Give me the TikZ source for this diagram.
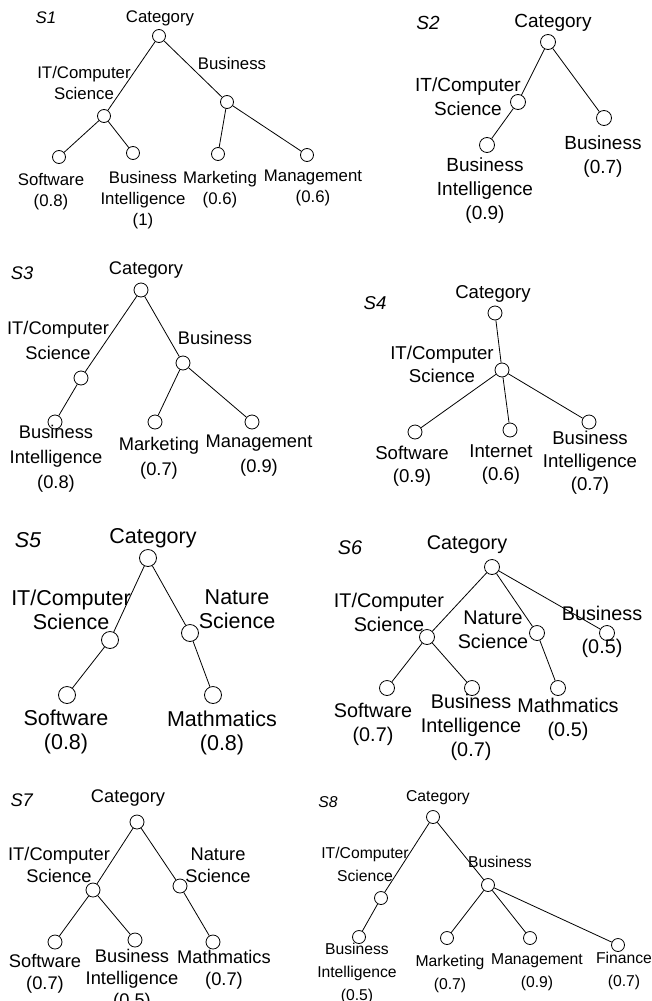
\documentclass[tikz,border=0pt]{standalone}
\usepackage{fontspec}
\setmainfont{Liberation Sans}

\begin{document}
\begin{tikzpicture}[x=1pt, y=-1pt, line width=0.8pt,
		vtx/.style={circle, draw, inner sep=0pt, minimum size=#1},
		vtx/.default=14pt,
		lbl/.style={align=center, inner sep=0pt}]
	\fill[white] (0,0) rectangle (651,1001);
	\useasboundingbox (0,0) rectangle (651,1001);

	\begin{scope}[font=\fontsize{16.8}{21}\selectfont]
		\node[lbl] (t1) at (46,18) {\textit{S1}};
		\node[lbl] (c1l) at (160,18) {Category};
		\node[vtx=13pt] (c1) at (159,36) {};
		\node[vtx=13pt] (it1) at (104,116) {};
		\node[vtx=13pt] (bus1) at (227,102) {};
		\node[vtx=13pt] (sw1) at (59,157) {};
		\node[vtx=13pt] (bi1) at (133,153) {};
		\node[vtx=13pt] (mk1) at (218,154) {};
		\node[vtx=13pt] (mg1) at (307,155) {};
		\node[lbl] (it1l) at (84,83) {IT/Computer\\Science};
		\node[lbl] (bus1l) at (232,63) {Business};
		\node[lbl] (sw1l) at (51,192) {Software\\(0.8)};
		\node[lbl] (bi1l) at (143,200) {Business\\Intelligence\\(1)};
		\node[lbl] (mk1l) at (220,190) {Marketing\\(0.6)};
		\node[lbl] (mg1l) at (313,188) {Management\\(0.6)};
		\draw (c1) -- (it1) (c1) -- (bus1) (it1) -- (sw1) (it1) -- (bi1)
			(bus1) -- (mk1) (bus1) -- (mg1);
	\end{scope}

	\begin{scope}[font=\fontsize{19}{24}\selectfont]
		\node[lbl] (t2) at (428,23) {\textit{S2}};
		\node[lbl] (c2l) at (553,23) {Category};
		\node[vtx=15pt] (c2) at (548,42) {};
		\node[vtx=15pt] (it2) at (518,102) {};
		\node[vtx=15pt] (bus2) at (604,118) {};
		\node[vtx=15pt] (bi2) at (487,145) {};
		\node[lbl] (it2l) at (468,97) {IT/Computer\\Science};
		\node[lbl] (bus2l) at (603,157) {Business\\(0.7)};
		\node[lbl] (bi2l) at (485,191) {Business\\Intelligence\\(0.9)};
		\draw (c2) -- (it2) (c2) -- (bus2) (it2) -- (bi2);
	\end{scope}

	\begin{scope}[font=\fontsize{18.3}{25}\selectfont]
		\node[lbl] (t3) at (22,273) {\textit{S3}};
		\node[lbl] (c3l) at (146,270) {Category};
		\node[vtx] (c3) at (141,290) {};
		\node[vtx] (it3) at (81,378) {};
		\node[vtx] (bus3) at (183,363) {};
		\node[vtx] (bi3) at (55,422) {};
		\node[vtx] (mk3) at (155,422) {};
		\node[vtx] (mg3) at (252,422) {};
		\node[lbl] (it3l) at (58,340) {IT/Computer\\Science};
		\node[lbl] (bus3l) at (215,338) {Business};
		\node[lbl] (bi3l) at (56,459) {Business\\Intelligence\\(0.8)};
		\node[lbl] (mk3l) at (159,458) {Marketing\\(0.7)};
		\node[lbl] (mg3l) at (259,456) {Management\\(0.9)};
		\draw (c3) -- (it3) (c3) -- (bus3) (it3) -- (bi3)
			(bus3) -- (mk3) (bus3) -- (mg3);
	\end{scope}

	\begin{scope}[font=\fontsize{18.6}{23}\selectfont]
		\node[lbl] (t4) at (375,303) {\textit{S4}};
		\node[lbl] (c4l) at (493,294) {Category};
		\node[vtx] (c4) at (495,313) {};
		\node[vtx] (it4) at (502,370) {};
		\node[vtx] (sw4) at (415,432) {};
		\node[vtx] (in4) at (510,430) {};
		\node[vtx] (bi4) at (589,422) {};
		\node[lbl] (it4l) at (442,364) {IT/Computer\\Science};
		\node[lbl] (sw4l) at (412,466) {Software\\(0.9)};
		\node[lbl] (in4l) at (501,465) {Internet\\(0.6)};
		\node[lbl] (bi4l) at (590,463) {Business\\Intelligence\\(0.7)};
		\draw (c4) -- (it4) (it4) -- (sw4) (it4) -- (in4) (it4) -- (bi4);
	\end{scope}

	\begin{scope}[font=\fontsize{21.5}{24}\selectfont]
		\node[lbl] (t5) at (28,540) {\textit{S5}};
		\node[lbl] (c5l) at (153,538) {Category};
		\node[vtx=17pt] (c5) at (148,558) {};
		\node[vtx=17pt] (it5) at (110,640) {};
		\node[vtx=17pt] (ns5) at (190,633) {};
		\node[vtx=17pt] (sw5) at (67,695) {};
		\node[vtx=17pt] (ma5) at (213,695) {};
		\node[lbl] (it5l) at (71,610) {IT/Computer\\Science};
		\node[lbl] (ns5l) at (237,609) {Nature\\Science};
		\node[lbl] (sw5l) at (66,732) {Software\\(0.8)};
		\node[lbl] (ma5l) at (222,733) {Mathmatics\\(0.8)};
		\draw (c5) -- (it5) (c5) -- (ns5) (it5) -- (sw5) (ns5) -- (ma5);
	\end{scope}

	\begin{scope}[font=\fontsize{19.8}{24}\selectfont]
		\node[lbl] (t6) at (350,548) {\textit{S6}};
		\node[lbl] (c6l) at (467,545) {Category};
		\node[vtx=15pt] (c6) at (492,567) {};
		\node[vtx=15pt] (it6) at (427,637) {};
		\node[vtx=15pt] (ns6) at (537,633) {};
		\node[vtx=15pt] (bus6) at (607,633) {};
		\node[vtx=15pt] (sw6) at (387,688) {};
		\node[vtx=15pt] (bi6) at (472,688) {};
		\node[vtx=15pt] (ma6) at (558,688) {};
		\node[lbl] (it6l) at (389,612) {IT/Computer\\Science};
		\node[lbl] (ns6l) at (493,630) {Nature\\Science};
		\node[lbl] (bus6l) at (602,632) {Business\\[9pt](0.5)};
		\node[lbl] (sw6l) at (373,724) {Software\\(0.7)};
		\node[lbl] (bi6l) at (471,727) {Business\\Intelligence\\(0.7)};
		\node[lbl] (ma6l) at (568,719) {Mathmatics\\(0.5)};
		\draw (c6) -- (it6) (c6) -- (ns6) (c6) -- (bus6) (it6) -- (sw6)
			(it6) -- (bi6) (ns6) -- (ma6);
	\end{scope}

	\begin{scope}[font=\fontsize{18.3}{22}\selectfont]
		\node[lbl] (t7) at (22,800) {\textit{S7}};
		\node[lbl] (c7l) at (128,798) {Category};
		\node[vtx] (c7) at (137,822) {};
		\node[vtx] (it7) at (93,890) {};
		\node[vtx] (ns7) at (180,886) {};
		\node[vtx] (sw7) at (55,942) {};
		\node[vtx] (bi7) at (135,940) {};
		\node[vtx] (ma7) at (213,942) {};
		\node[lbl] (it7l) at (59,865) {IT/Computer\\Science};
		\node[lbl] (ns7l) at (218,865) {Nature\\Science};
		\node[lbl] (sw7l) at (45,974) {Software\\(0.7)};
		\node[lbl] (bi7l) at (132,980) {Business\\Intelligence\\(0.5)};
		\node[lbl] (ma7l) at (224,970) {Mathmatics\\(0.7)};
		\draw (c7) -- (it7) (c7) -- (ns7) (it7) -- (sw7) (it7) -- (bi7)
			(ns7) -- (ma7);
	\end{scope}

	\begin{scope}[font=\fontsize{15.7}{23}\selectfont]
		\node[lbl] (t8) at (328,802) {\textit{S8}};
		\node[lbl] (c8l) at (438,798) {Category};
		\node[vtx=13pt] (c8) at (433,817) {};
		\node[vtx=13pt] (it8) at (381,898) {};
		\node[vtx=13pt] (bus8) at (488,885) {};
		\node[vtx=13pt] (bi8) at (359,937) {};
		\node[vtx=13pt] (mk8) at (447,938) {};
		\node[vtx=13pt] (mg8) at (530,938) {};
		\node[vtx=13pt] (fi8) at (618,945) {};
		\node[lbl] (it8l) at (365,864) {IT/Computer\\Science};
		\node[lbl] (bus8l) at (500,862) {Business};
		\node[lbl] (bi8l) at (357,973) {Business\\Intelligence\\(0.5)};
		\node[lbl] (mk8l) at (450,974) {Marketing\\(0.7)};
		\node[lbl] (mg8l) at (537,972) {Management\\(0.9)};
		\node[lbl] (fi8l) at (624,971) {Finance\\(0.7)};
		\draw (c8) -- (it8) (c8) -- (bus8) (it8) -- (bi8) (bus8) -- (mk8)
			(bus8) -- (mg8) (bus8) -- (fi8);
	\end{scope}
\end{tikzpicture}
\end{document}
